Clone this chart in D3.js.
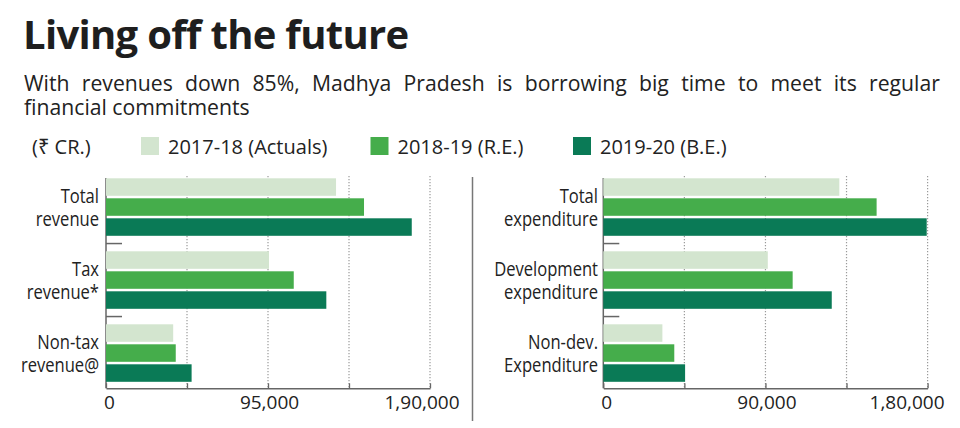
<!DOCTYPE html>
<html>
<head>
<meta charset="utf-8">
<script src="https://cdn.jsdelivr.net/npm/d3@7"></script>
<style>
  html, body { margin: 0; padding: 0; background: #fff; }
  svg { display: block; font-family: "Open Sans", "Noto Sans", sans-serif; }
</style>
</head>
<body>
<svg id="chart" width="960" height="428"></svg>
<script>
// ---- data ----
const seriesNames = ["2017-18 (Actuals)", "2018-19 (R.E.)", "2019-20 (B.E.)"];
const seriesColors = ["#d3e5cf", "#45ad4b", "#0a7a56"];

const revenueCategories = [["Total", "revenue"], ["Tax", "revenue*"], ["Non-tax", "revenue@"]];
const revenue2017 = [134900, 95600, 39400];
const revenue2018 = [151300, 110100, 40900];
const revenue2019 = [179300, 129200, 50200];
const revenueTicks = [0, 47500, 95000, 142500, 190000];
const revenueTickLabels = ["0", "", "95,000", "", "1,90,000"];

const expenditureCategories = [["Total", "expenditure"], ["Development", "expenditure"], ["Non-dev.", "Expenditure"]];
const expenditure2017 = [131000, 91300, 32800];
const expenditure2018 = [151700, 105100, 39400];
const expenditure2019 = [179500, 126800, 45400];
const expenditureTicks = [0, 45000, 90000, 135000, 180000];
const expenditureTickLabels = ["0", "", "90,000", "", "1,80,000"];

// ---- drawing ----
const svg = d3.select("#chart");
const textColor = "#222";

svg.append("text").attr("x", 23).attr("y", 49)
  .attr("font-size", 40).attr("font-weight", 700).attr("fill", "#1e1e1e")
  .attr("letter-spacing", -0.7)
  .text("Living off the future");

svg.append("text").attr("x", 24).attr("y", 91).attr("font-size", 21.2).attr("fill", textColor)
  .attr("word-spacing", 6.8)
  .text("With revenues down 85%, Madhya Pradesh is borrowing big time to meet its regular");
svg.append("text").attr("x", 24).attr("y", 115).attr("font-size", 21.2).attr("fill", textColor)
  .text("financial commitments");

// legend
svg.append("text").attr("x", 32).attr("y", 154).attr("font-size", 20).attr("fill", textColor).text("(₹ CR.)");
const legendX = [141, 370.5, 573];
seriesNames.forEach((s, i) => {
  svg.append("rect").attr("x", legendX[i]).attr("y", 137).attr("width", 18).attr("height", 18).attr("fill", seriesColors[i]);
  svg.append("text").attr("x", legendX[i] + 27).attr("y", 154).attr("font-size", 20).attr("fill", textColor).text(s);
});

// separator
svg.append("line").attr("x1", 472.5).attr("x2", 472.5).attr("y1", 177).attr("y2", 421)
  .attr("stroke", "#777").attr("stroke-width", 1.5);

function panel(cats, vals, ticks, tickLabels, x0, x1, labelX, lastDx) {
  const g = svg.append("g");
  const x = d3.scaleLinear().domain([0, ticks[ticks.length - 1]]).range([x0, x1]);
  const keys = cats.map(c => c.join(" "));
  const y0 = d3.scaleBand().domain(keys).range([178.3, 397.3]).paddingInner(0).paddingOuter(0);
  const y1 = d3.scaleBand().domain(seriesNames).range([0, 57.5]).paddingInner(0.125).paddingOuter(0);
  const axisY = 388.3;

  // gridlines
  g.selectAll("line.grid").data(ticks.slice(1)).join("line")
    .attr("class", "grid")
    .attr("x1", d => x(d)).attr("x2", d => x(d))
    .attr("y1", 176).attr("y2", axisY)
    .attr("stroke", "#9a9a9a").attr("stroke-width", 1.2).attr("stroke-dasharray", "1.2,1.8");

  // left axis line
  g.append("line").attr("x1", x0).attr("x2", x0).attr("y1", 178).attr("y2", axisY)
    .attr("stroke", "#666").attr("stroke-width", 1.5);

  // group separator ticks
  g.selectAll("line.sep").data(keys.slice(1)).join("line")
    .attr("x1", x0).attr("x2", x0 + 16)
    .attr("y1", d => y0(d) - 7.75).attr("y2", d => y0(d) - 7.75)
    .attr("stroke", "#666").attr("stroke-width", 1.5);

  // bars
  keys.forEach((k, ci) => {
    seriesNames.forEach((s, si) => {
      g.append("rect")
        .attr("x", x(0))
        .attr("y", y0(k) + y1(s))
        .attr("width", x(vals[si][ci]) - x(0))
        .attr("height", y1.bandwidth())
        .attr("fill", seriesColors[si]);
    });
  });

  // bottom axis
  const axis = d3.axisBottom(x).tickValues(ticks).tickSize(0).tickFormat((d, i) => tickLabels[i]);
  const ag = g.append("g").attr("transform", `translate(0,${axisY})`).call(axis);
  ag.select(".domain").attr("stroke", "#666").attr("stroke-width", 1.5);
  const n = ticks.length;
  ag.selectAll(".tick text").attr("font-size", 19).attr("fill", textColor)
    .attr("font-family", "'Open Sans', 'Noto Sans', sans-serif").attr("dy", 0).attr("y", 21)
    .attr("x", (d, i) => i === 0 ? 3 : (i === n - 1 ? lastDx : 1));
  ag.selectAll(".tick line").remove();
  ag.selectAll(".tick").append("line").attr("y1", 0).attr("y2", -5).attr("stroke", "#666").attr("stroke-width", 1.3);

  // category labels (slightly condensed, right-aligned)
  cats.forEach((c, ci) => {
    const t = g.append("text").attr("text-anchor", "end").attr("font-size", 19.5).attr("fill", textColor)
      .attr("transform", `translate(${labelX},0) scale(0.85,1)`);
    t.append("tspan").attr("x", 0).attr("y", y0(keys[ci]) + 25).text(c[0]);
    t.append("tspan").attr("x", 0).attr("y", y0(keys[ci]) + 48).text(c[1]);
  });
}

panel(revenueCategories, [revenue2017, revenue2018, revenue2019], revenueTicks, revenueTickLabels, 106, 430, 99, -8.5);
panel(expenditureCategories, [expenditure2017, expenditure2018, expenditure2019], expenditureTicks, expenditureTickLabels, 603.3, 927.6, 598, -21);
</script>
</body>
</html>
